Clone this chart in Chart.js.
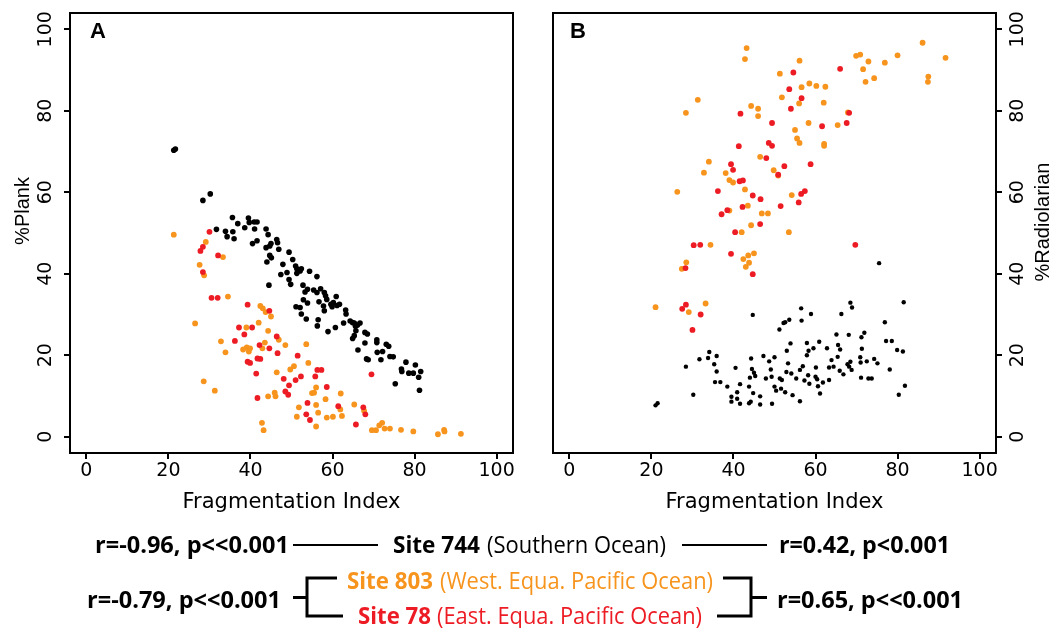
<!DOCTYPE html>
<html>
<head>
<meta charset="utf-8">
<script src="https://cdn.jsdelivr.net/npm/chart.js@4"></script>
<style>
  html, body { margin: 0; padding: 0; background: #fff; }
  body { width: 1062px; height: 628px; position: relative; overflow: hidden; }
  canvas { position: absolute; top: 0; }
  #plank { left: 0; }
  #radio { left: 530px; }
  #caption { position: absolute; left: 0; top: 0; pointer-events: none; }
  #caption text { font-family: "Open Sans", "DejaVu Sans", sans-serif; font-size: 23px; }
  .b { font-weight: 700; }
</style>
</head>
<body>
<canvas id="plank" width="530" height="520"></canvas>
<canvas id="radio" width="532" height="520"></canvas>
<svg id="caption" width="1062" height="628" xmlns="http://www.w3.org/2000/svg">
  <text class="b" x="95" y="553" textLength="194" lengthAdjust="spacingAndGlyphs" fill="#000">r=-0.96, p&lt;&lt;0.001</text>
  <line x1="293" y1="545" x2="378" y2="545" stroke="#000" stroke-width="2"/>
  <text class="b" x="393" y="553" textLength="87" lengthAdjust="spacingAndGlyphs" fill="#000">Site 744</text>
  <text x="487" y="553" textLength="179" lengthAdjust="spacingAndGlyphs" fill="#000">(Southern Ocean)</text>
  <line x1="682" y1="545" x2="767" y2="545" stroke="#000" stroke-width="2"/>
  <text class="b" x="779" y="553" textLength="171" lengthAdjust="spacingAndGlyphs" fill="#000">r=0.42, p&lt;0.001</text>

  <text class="b" x="347" y="589" textLength="86" lengthAdjust="spacingAndGlyphs" fill="#F7941D">Site 803</text>
  <text x="440" y="589" textLength="273" lengthAdjust="spacingAndGlyphs" fill="#F7941D">(West. Equa. Pacific Ocean)</text>
  <text class="b" x="358" y="624" textLength="73" lengthAdjust="spacingAndGlyphs" fill="#ED1C24">Site 78</text>
  <text x="437" y="624" textLength="265" lengthAdjust="spacingAndGlyphs" fill="#ED1C24">(East. Equa. Pacific Ocean)</text>

  <text class="b" x="87" y="608" textLength="194" lengthAdjust="spacingAndGlyphs" fill="#000">r=-0.79, p&lt;&lt;0.001</text>
  <path d="M337,578 H307 V616 H343 M293,597.5 H307" fill="none" stroke="#000" stroke-width="3"/>
  <path d="M723,578 H751 V616 H717 M751,597.5 H767" fill="none" stroke="#000" stroke-width="3"/>
  <text class="b" x="777" y="608" textLength="186" lengthAdjust="spacingAndGlyphs" fill="#000">r=0.65, p&lt;&lt;0.001</text>
</svg>
<script>
// Axis ticks shared by both panels
const tickValues = [0, 20, 40, 60, 80, 100];

// Panel A: %Plank against fragmentation index, [FI, %Plank]
const plank744 = [
  [21.3,70.3],[21.7,70.6],[28.4,58.0],[30.2,59.6],[31.7,50.9],[33.9,50.4],[34.3,49.1],[35.7,50.3],[36.0,48.6],[35.6,53.8],
  [36.9,52.3],[38.6,51.3],[39.5,53.7],[39.7,52.6],[40.9,52.7],[41.6,52.7],[41.0,51.0],[40.5,47.4],[41.6,48.1],[43.8,51.0],
  [44.3,49.6],[43.8,46.4],[44.7,46.8],[45.0,47.4],[46.4,48.4],[46.6,47.6],[46.9,46.0],[44.7,44.5],[45.1,43.9],[44.0,42.9],
  [44.5,37.2],[47.4,39.8],[47.9,42.3],[49.4,45.3],[50.3,43.5],[48.9,40.3],[49.4,38.6],[49.8,37.4],[51.0,41.9],[51.3,41.2],
  [52.1,40.7],[52.4,41.2],[51.3,40.1],[54.4,40.6],[56.2,39.3],[52.8,37.2],[53.9,36.2],[53.3,35.5],[55.4,36.0],[56.2,35.4],
  [57.1,36.3],[58.0,35.4],[58.3,34.6],[58.6,33.7],[60.9,34.4],[60.2,32.9],[59.6,32.5],[61.7,32.5],[59.9,31.9],[57.8,32.1],
  [58.0,30.9],[56.7,33.1],[52.9,33.6],[53.9,32.8],[51.1,31.9],[52.1,31.7],[52.4,30.1],[53.6,28.9],[56.5,28.7],[56.3,27.2],
  [58.9,25.8],[60.7,26.8],[62.7,27.9],[63.2,31.1],[63.3,30.1],[64.3,28.4],[65.3,27.9],[66.7,27.9],[65.6,27.1],[65.7,26.0],
  [65.3,24.8],[64.9,24.1],[67.9,25.6],[68.5,25.2],[67.9,23.0],[66.2,21.3],[68.3,19.1],[68.7,18.9],[70.8,23.8],[70.8,23.1],
  [70.9,20.7],[72.2,20.9],[71.8,18.9],[73.1,22.7],[73.7,22.2],[74.0,19.7],[74.8,19.6],[75.3,13.0],[76.8,16.6],[76.9,16.0],
  [77.9,18.3],[78.6,15.6],[79.7,15.6],[80.2,17.6],[81.0,14.6],[81.5,16.0],[81.2,11.4],[61.1,32.2],[64.9,28.0],[66.1,27.4]
];
const plank803 = [
  [21.3,49.6],[29.1,47.8],[27.6,42.2],[28.7,39.6],[33.3,44.1],[34.5,34.4],[26.5,27.8],[28.6,13.6],[31.3,11.3],[32.8,23.4],
  [33.9,20.7],[38.2,21.4],[39.0,26.8],[39.1,21.9],[39.9,21.7],[39.6,20.9],[42.0,28.0],[42.4,32.1],[43.0,31.5],[43.7,30.6],
  [45.0,29.5],[44.3,26.0],[43.5,23.1],[42.9,21.7],[46.9,23.8],[48.5,22.5],[46.4,15.8],[42.8,3.4],[43.2,1.6],[44.3,9.9],
  [45.9,10.8],[46.1,9.9],[49.7,16.5],[50.6,17.3],[53.6,22.7],[54.1,18.1],[51.8,7.2],[51.3,4.9],[56.0,12.1],[55.0,10.7],
  [55.5,10.8],[56.0,7.8],[56.5,5.9],[58.3,9.2],[58.6,4.7],[60.1,4.9],[56.0,2.5],[62.0,10.6],[61.9,6.7],[62.3,5.1],
  [65.3,7.9],[67.7,6.4],[69.6,1.6],[70.6,1.6],[71.4,2.8],[72.1,3.4],[72.7,2.0],[74.0,2.0],[76.7,1.7],[79.7,1.3],
  [85.7,0.6],[87.2,1.7],[87.3,1.3],[91.3,0.7]
];
const plank78 = [
  [30.0,50.3],[28.4,46.6],[27.8,45.6],[32.1,44.5],[28.4,40.4],[30.5,34.1],[32.0,34.1],[39.3,32.4],[44.6,30.9],[37.2,26.8],
  [40.4,26.8],[38.5,25.1],[36.2,23.5],[42.2,22.5],[44.6,21.7],[46.4,24.6],[46.6,20.5],[39.3,18.4],[39.9,18.1],[41.7,19.2],
  [42.4,19.1],[41.4,15.5],[41.7,9.5],[48.1,14.2],[49.4,12.6],[48.5,11.1],[49.2,10.3],[51.0,13.9],[52.3,14.8],[51.5,19.9],
  [56.3,16.4],[57.3,16.4],[55.8,14.8],[58.6,12.2],[53.9,8.3],[53.6,5.5],[54.5,4.1],[61.4,7.5],[65.7,3.0],[67.5,7.2],
  [68.0,5.5],[69.5,15.3]
];

// Panel B: %Radiolarian against fragmentation index, [FI, %Radiolarian]
const radio744 = [
  [21.0,7.7],[21.5,8.2],[28.4,17.2],[30.2,10.3],[31.7,19.0],[34.1,20.8],[33.8,19.3],[35.9,19.8],[35.3,17.8],[35.9,16.0],
  [35.5,13.4],[36.8,13.4],[38.5,12.3],[40.5,16.9],[40.9,10.9],[39.5,9.8],[39.5,8.6],[40.9,9.3],[41.6,8.1],[41.6,12.9],
  [43.8,8.2],[44.2,8.6],[43.8,12.3],[44.7,29.9],[44.3,19.2],[44.5,16.6],[45.0,15.7],[45.3,14.9],[44.0,14.5],[44.8,10.7],
  [46.5,9.9],[46.5,7.9],[47.3,19.8],[47.9,14.3],[48.7,18.5],[49.1,16.5],[49.3,14.7],[49.4,8.1],[50.0,19.5],[50.0,12.3],
  [50.4,11.3],[51.2,26.3],[52.2,27.9],[52.6,28.1],[53.6,28.7],[51.3,14.3],[51.8,13.9],[51.6,11.8],[52.6,10.9],[52.9,15.9],
  [53.0,21.1],[53.3,18.0],[53.9,22.9],[54.4,10.2],[54.1,15.5],[55.3,14.3],[56.2,16.4],[56.2,8.7],[56.5,31.5],[56.6,28.5],
  [56.9,17.3],[57.3,13.8],[57.9,20.0],[57.9,23.0],[58.3,21.1],[58.2,15.1],[58.5,13.0],[58.9,30.1],[59.5,21.7],[60.0,14.7],
  [60.1,17.0],[60.4,14.1],[60.6,12.4],[60.9,23.3],[61.1,10.6],[61.8,13.3],[62.8,21.7],[63.3,17.0],[63.3,13.9],[63.9,18.8],
  [64.4,17.2],[65.1,25.1],[65.4,19.6],[65.5,22.5],[66.0,21.4],[65.9,16.2],[66.3,30.1],[66.8,15.3],[67.8,17.8],[68.1,25.0],
  [68.2,17.2],[68.5,32.9],[68.9,31.7],[68.5,18.4],[68.8,16.4],[70.9,19.5],[71.0,18.2],[71.2,24.4],[71.9,25.5],[71.3,21.6],
  [71.1,14.5],[72.5,18.5],[72.9,14.3],[73.7,14.3],[74.3,19.1],[75.1,18.0],[76.9,28.1],[77.2,23.5],[78.1,16.5],[78.6,23.5],
  [79.9,21.3],[80.3,10.3],[75.5,42.6],[81.5,33.0],[81.3,20.9],[81.8,12.5]
];
const radio803 = [
  [21.0,31.8],[28.4,79.5],[31.3,82.7],[26.3,60.1],[28.5,42.8],[27.4,41.2],[29.1,30.6],[33.2,32.7],[34.0,67.5],[32.8,64.8],
  [34.4,47.1],[38.1,64.7],[39.0,63.0],[39.9,62.4],[39.0,55.5],[42.8,60.7],[43.5,56.7],[42.0,50.2],[44.3,51.9],[42.4,43.6],
  [43.6,44.5],[45.0,45.0],[43.0,41.7],[43.8,42.7],[43.2,95.4],[42.8,92.7],[44.3,81.2],[46.0,80.5],[46.0,78.7],[46.5,68.7],
  [46.9,54.8],[48.4,54.8],[49.8,65.4],[50.9,64.1],[51.3,89.1],[51.8,83.3],[53.5,50.2],[54.2,59.3],[55.0,75.3],[55.5,73.2],
  [56.1,72.1],[56.0,81.8],[56.6,85.8],[56.1,92.3],[58.5,86.7],[58.3,77.0],[60.2,86.1],[62.4,85.9],[62.0,82.0],[62.1,71.9],
  [62.1,71.4],[65.4,76.5],[67.9,79.6],[69.9,93.5],[70.9,93.8],[71.6,90.2],[72.2,87.1],[72.9,92.1],[74.3,88.0],[76.9,91.8],
  [80.0,93.6],[86.1,96.7],[87.5,88.4],[87.4,87.1],[91.7,93.0]
];
const radio78 = [
  [27.5,31.4],[28.4,32.4],[28.3,41.4],[30.0,26.2],[32.0,30.0],[30.3,47.0],[31.9,47.1],[36.2,60.3],[37.1,54.6],[38.5,55.6],
  [39.4,66.9],[39.9,65.5],[41.5,62.7],[42.3,62.9],[39.4,44.9],[40.4,50.2],[41.3,71.3],[41.7,79.3],[42.2,56.4],[44.7,59.2],
  [44.7,39.9],[46.6,58.3],[46.5,52.2],[48.0,68.4],[48.6,72.1],[49.4,71.4],[49.4,77.0],[50.9,64.3],[51.5,56.6],[52.4,66.4],
  [53.6,85.3],[54.0,80.5],[54.6,89.4],[56.6,83.1],[55.9,57.5],[56.5,59.6],[57.4,60.3],[58.8,66.9],[61.6,76.2],[66.0,90.3],
  [67.6,77.0],[68.2,79.5],[69.7,47.1]
];

const BLACK = '#000000';
const ORANGE = '#F7941D';
const RED = '#ED1C24';

const pts = arr => arr.map(([x, y]) => ({x, y}));

function series(data, color, radius, order) {
  return {
    data: pts(data), order,
    backgroundColor: color, borderColor: color, borderWidth: 0,
    pointRadius: radius, pointHoverRadius: radius
  };
}

function fixTicks(scale) {
  scale.ticks = tickValues.map(v => ({value: v}));
}

const tickGrid = {
  display: true, drawOnChartArea: false, drawTicks: true,
  tickLength: 6, color: '#000', lineWidth: 2
};

// Frame, rotated y tick labels, y axis title and panel letter
const framePlugin = {
  id: 'frame',
  afterDraw(chart, args, o) {
    const {ctx, chartArea: a} = chart;
    const ys = chart.scales.y;
    ctx.save();
    ctx.strokeStyle = '#000';
    ctx.lineWidth = 2;
    ctx.strokeRect(a.left, a.top, a.right - a.left, a.bottom - a.top);

    ctx.fillStyle = '#000';
    ctx.textAlign = 'center';
    ctx.textBaseline = 'middle';
    ctx.font = '19px "DejaVu Sans"';
    const lx = o.side === 'left' ? a.left - 24 : a.right + 22;
    tickValues.forEach(v => {
      ctx.save();
      ctx.translate(lx, ys.getPixelForValue(v));
      ctx.rotate(-Math.PI / 2);
      ctx.fillText(String(v), 0, 0);
      ctx.restore();
    });

    ctx.font = '20px "Liberation Sans"';
    const tx = o.side === 'left' ? a.left - 47 : a.right + 47;
    ctx.save();
    ctx.translate(tx, a.top + o.titleDy);
    ctx.rotate(-Math.PI / 2);
    ctx.fillText(o.title, 0, 0);
    ctx.restore();

    ctx.font = 'bold 22px "Liberation Sans"';
    ctx.textAlign = 'left';
    ctx.textBaseline = 'alphabetic';
    ctx.fillText(o.letter, a.left + o.letterDx, a.top + 25);
    ctx.restore();
  }
};

function panel(canvasId, datasets, yPos, padding, yWidth, frameOpts) {
  return new Chart(document.getElementById(canvasId), {
    type: 'scatter',
    data: {datasets},
    options: {
      responsive: false,
      animation: false,
      devicePixelRatio: 1,
      layout: {autoPadding: false, padding},
      events: [],
      plugins: {legend: {display: false}, tooltip: {enabled: false}, frame: frameOpts},
      scales: {
        x: {
          type: 'linear', min: -4, max: 104,
          afterBuildTicks: fixTicks,
          afterFit: s => { s.height = 67; },
          grid: tickGrid,
          border: {display: false},
          ticks: {color: '#000', padding: 1, maxRotation: 0, font: {family: 'DejaVu Sans', size: 19}},
          title: {display: true, text: 'Fragmentation Index', color: '#000',
                  font: {family: 'DejaVu Sans', size: 21}, padding: {top: 0, bottom: 5}}
        },
        y: {
          type: 'linear', position: yPos, min: -4, max: 104,
          afterBuildTicks: fixTicks,
          afterFit: s => { s.width = yWidth; },
          grid: tickGrid,
          border: {display: false},
          ticks: {display: false}
        }
      }
    },
    plugins: [framePlugin]
  });
}

panel('plank', [
  series(plank744, BLACK, 2.8, 3),
  series(plank803, ORANGE, 2.9, 2),
  series(plank78, RED, 2.9, 1)
], 'left', {top: 13, right: 17, bottom: 0, left: 0}, 70,
  {side: 'left', title: '%Plank', titleDy: 198, letter: 'A', letterDx: 20});

panel('radio', [
  series(radio744, BLACK, 2.2, 3),
  series(radio803, ORANGE, 2.9, 2),
  series(radio78, RED, 2.9, 1)
], 'right', {top: 13, right: 0, bottom: 0, left: 23}, 66,
  {side: 'right', title: '%Radiolarian', titleDy: 209, letter: 'B', letterDx: 17});
</script>
</body>
</html>
